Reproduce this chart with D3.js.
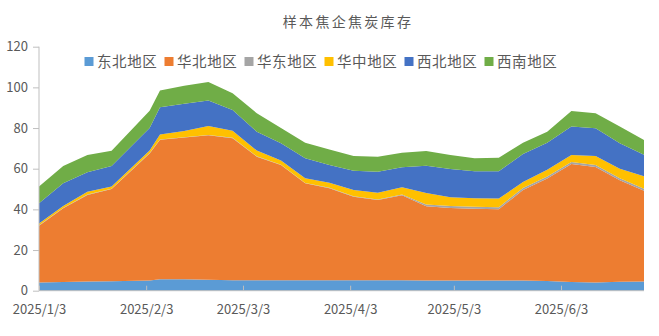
<!DOCTYPE html>
<html>
<head>
<meta charset="utf-8">
<script src="https://cdn.jsdelivr.net/npm/d3@7"></script>
<style>
  html, body { margin: 0; padding: 0; background: #ffffff; }
  svg { display: block; }
</style>
</head>
<body>
<svg id="chart" width="659" height="336"></svg>
<script>
// ---- data ----
const title = "样本焦企焦炭库存";
const dates = ["2025/1/3","2025/1/10","2025/1/17","2025/1/24","2025/2/4","2025/2/7","2025/2/14","2025/2/21","2025/2/28",
  "2025/3/7","2025/3/14","2025/3/21","2025/3/28","2025/4/4","2025/4/11","2025/4/18","2025/4/25",
  "2025/5/2","2025/5/9","2025/5/16","2025/5/23","2025/5/30","2025/6/6","2025/6/13","2025/6/20","2025/6/27"];
const seriesNames = ["东北地区","华北地区","华东地区","华中地区","西北地区","西南地区"];
const northeast = [4.0,4.3,4.5,4.7,5.0,5.6,5.6,5.4,5.2,5.1,5.1,5.1,5.1,5.1,5.1,5.1,5.0,5.0,5.0,5.0,5.0,4.8,4.3,4.0,4.4,4.5];
const north     = [28.0,36.2,42.6,45.3,62.5,68.6,69.7,71.0,69.8,60.8,56.7,47.7,45.3,41.1,39.5,41.9,36.5,35.7,35.3,35.1,44.5,50.4,58.0,56.8,49.9,44.7];
const east      = [0.2,0.2,0.2,0.2,0.2,0.2,0.2,0.2,0.2,0.2,0.2,0.2,0.2,0.2,0.2,0.3,0.9,0.9,1.0,1.0,1.0,1.0,1.0,1.0,1.0,1.0];
const central   = [0.9,1.0,1.4,1.1,1.3,2.4,3.1,4.4,3.5,2.8,2.0,2.3,2.5,3.1,3.4,3.6,5.6,4.4,4.2,4.2,2.9,3.3,3.4,4.5,4.7,6.1];
const northwest = [9.9,11.1,9.5,10.0,11.0,13.4,13.4,12.6,10.2,9.3,8.5,9.8,8.7,9.5,10.3,9.8,13.5,13.9,13.2,13.4,13.8,13.3,14.0,13.6,12.5,10.6];
const southwest = [8.2,8.5,8.5,7.5,8.5,8.2,8.8,9.1,8.2,9.1,7.5,7.7,7.7,7.3,7.4,7.2,7.2,6.8,6.4,6.7,5.6,5.4,7.7,7.4,8.2,7.2];
const yTicks = [0,20,40,60,80,100,120];
const xTickLabels = ["2025/1/3","2025/2/3","2025/3/3","2025/4/3","2025/5/3","2025/6/3"];
const colors = ["#5B9BD5","#ED7D31","#A5A5A5","#FFC000","#4472C4","#70AD47"];

// ---- build ----
(function () {
const parse = d3.timeParse("%Y/%-m/%-d");
const seriesValues = [northeast, north, east, central, northwest, southwest];
const rows = dates.map((d, i) => {
  const r = { date: parse(d) };
  seriesNames.forEach((k, j) => r[k] = seriesValues[j][i]);
  return r;
});

const svg = d3.select("#chart");
const mLeft = 39, mRight = 644, mTop = 46.7, mBottom = 290.7;
const textColor = "#595959";
const font = "'Noto Sans CJK SC', 'Noto Sans', sans-serif";

const x = d3.scaleTime().domain([parse(dates[0]), parse(dates[dates.length - 1])]).range([mLeft, mRight]);
const y = d3.scaleLinear().domain([0, 120]).range([mBottom, mTop]);

const stack = d3.stack().keys(seriesNames);
const layers = stack(rows);
const area = d3.area()
  .x(d => x(d.data.date))
  .y0(d => y(d[0]))
  .y1(d => y(d[1]));

svg.append("g").selectAll("path")
  .data(layers)
  .join("path")
  .attr("d", area)
  .attr("fill", (d, i) => colors[i]);

// y axis
const yAxis = svg.append("g").attr("transform", `translate(${mLeft},0)`)
  .call(d3.axisLeft(y).tickValues(yTicks).tickSize(6).tickPadding(5));
yAxis.select(".domain").attr("stroke", "#bfbfbf").attr("d", `M0,${y(120)}V${y(0)}`);
yAxis.selectAll(".tick line").attr("stroke", "#bfbfbf");
yAxis.selectAll(".tick text").attr("fill", textColor).style("font-size", "13px").style("font-family", font);

// x axis
const xAxis = svg.append("g").attr("transform", `translate(0,${mBottom})`)
  .call(d3.axisBottom(x).tickValues(xTickLabels.map(parse)).tickFormat(d3.timeFormat("%Y/%-m/%-d")).tickSize(0).tickPadding(14));
xAxis.select(".domain").attr("stroke", "#bfbfbf").attr("d", `M${mLeft},0H${mRight}`);
xAxis.selectAll(".tick line").attr("stroke", "#bfbfbf").attr("y2", -5);
xAxis.selectAll(".tick text").attr("fill", textColor).style("font-size", "13px").style("font-family", font);

// title
svg.append("text")
  .attr("x", 348).attr("y", 27)
  .attr("text-anchor", "middle")
  .attr("fill", textColor)
  .style("font-size", "14px")
  .style("letter-spacing", "2.3px")
  .style("font-family", font)
  .text(title);

// legend
const legend = svg.append("g");
seriesNames.forEach((name, i) => {
  const gx = 84.5 + i * 80;
  legend.append("rect").attr("x", gx).attr("y", 57).attr("width", 9).attr("height", 9).attr("fill", colors[i]);
  legend.append("text")
    .attr("x", gx + 12.5).attr("y", 67)
    .attr("fill", textColor)
    .style("font-size", "14.5px")
    .style("letter-spacing", "0.6px")
    .style("font-family", font)
    .text(name);
});
})();
</script>
</body>
</html>
